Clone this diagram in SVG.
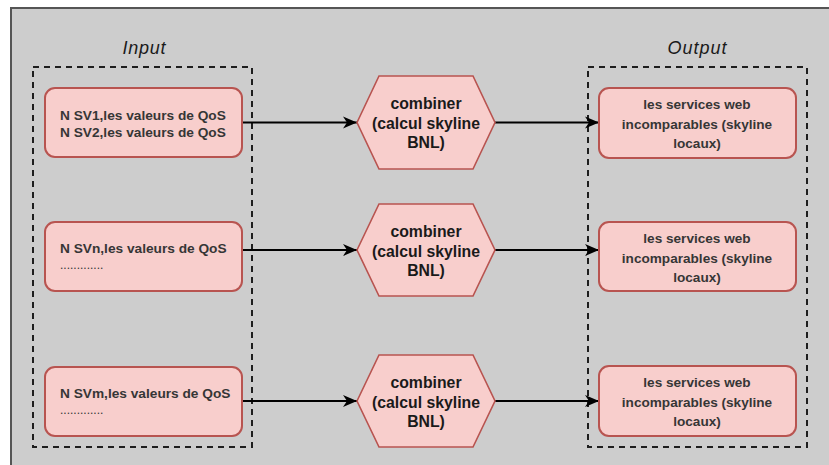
<svg xmlns="http://www.w3.org/2000/svg" width="829" height="465" viewBox="0 0 829 465">
  <defs>
    <style>
      .frame { fill: none; stroke: #1e1e1e; stroke-width: 2; stroke-dasharray: 6 5; }
      .box { fill: #f8cecc; stroke: #b85450; stroke-width: 2; }
      .hex { fill: #f8cecc; stroke: #b85450; stroke-width: 1.6; stroke-linejoin: miter; }
      .edge { fill: none; stroke: #000; stroke-width: 2; marker-end: url(#arrow); }
      .title { font-family: "Liberation Sans", Arial, sans-serif; font-style: italic; font-size: 18px; fill: #1a1a1a; text-anchor: middle; }
      .in { font-family: "Liberation Sans", Arial, sans-serif; font-weight: bold; font-size: 13.7px; fill: #363636; }
      .dots { font-family: "Liberation Sans", Arial, sans-serif; font-size: 12px; fill: #363636; }
      .hx { font-family: "Liberation Sans", Arial, sans-serif; font-weight: bold; font-size: 15.8px; fill: #1a1a1a; text-anchor: middle; }
      .out { font-family: "Liberation Sans", Arial, sans-serif; font-weight: bold; font-size: 13.6px; fill: #363636; text-anchor: middle; }
    </style>
    <marker id="arrow" markerUnits="userSpaceOnUse" markerWidth="16" markerHeight="14" refX="14" refY="7" orient="auto">
      <path d="M0,1 L14,7 L0,13 L4,7 Z" fill="#000"/>
    </marker>
  </defs>

  <!-- canvas -->
  <rect x="0" y="0" width="829" height="465" fill="#ffffff"/>
  <rect x="11" y="8" width="830" height="470" fill="#cdcdcd" stroke="#555" stroke-width="2"/>

  <!-- group frames -->
  <g id="input-group">
    <rect class="frame" x="33" y="67" width="219" height="380"/>
    <text class="title" x="144" y="54" textLength="43" lengthAdjust="spacing">Input</text>
  </g>
  <g id="output-group">
    <rect class="frame" x="588" y="67" width="219" height="380"/>
    <text class="title" x="697" y="54" textLength="59" lengthAdjust="spacing">Output</text>
  </g>

  <!-- connectors -->
  <g id="connectors">
    <path class="edge" d="M242,122.5 L357,122.5"/>
    <path class="edge" d="M242,250 L357,250"/>
    <path class="edge" d="M242,401 L357,401"/>
    <path class="edge" d="M495,122.5 L599,122.5"/>
    <path class="edge" d="M495,250 L599,250"/>
    <path class="edge" d="M495,401 L599,401"/>
  </g>

  <!-- input nodes -->
  <g id="in1">
    <rect class="box" x="45" y="88" width="197" height="69" rx="10"/>
    <text class="in" x="60" y="120">N SV1,les valeurs de QoS</text>
    <text class="in" x="60" y="137">N SV2,les valeurs de QoS</text>
  </g>
  <g id="in2">
    <rect class="box" x="45" y="222" width="197" height="69" rx="10"/>
    <text class="in" x="60" y="253">N SVn,les valeurs de QoS</text>
    <text class="dots" x="60" y="269">.............</text>
  </g>
  <g id="in3">
    <rect class="box" x="45" y="367" width="197" height="69" rx="10"/>
    <text class="in" x="60" y="398">N SVm,les valeurs de QoS</text>
    <text class="dots" x="60" y="414">.............</text>
  </g>

  <!-- combiner nodes -->
  <g id="comb1">
    <polygon class="hex" points="357,122.5 379,76 473,76 495,122.5 473,169 379,169"/>
    <text class="hx" x="426" y="109">combiner</text>
    <text class="hx" x="426" y="129">(calcul skyline</text>
    <text class="hx" x="426" y="148">BNL)</text>
  </g>
  <g id="comb2">
    <polygon class="hex" points="357,250 379,204 473,204 495,250 473,296 379,296"/>
    <text class="hx" x="426" y="236.5">combiner</text>
    <text class="hx" x="426" y="256.5">(calcul skyline</text>
    <text class="hx" x="426" y="275.5">BNL)</text>
  </g>
  <g id="comb3">
    <polygon class="hex" points="357,401 379,355 473,355 495,401 473,447 379,447"/>
    <text class="hx" x="426" y="387.5">combiner</text>
    <text class="hx" x="426" y="407.5">(calcul skyline</text>
    <text class="hx" x="426" y="426.5">BNL)</text>
  </g>

  <!-- output nodes -->
  <g id="out1">
    <rect class="box" x="599" y="88" width="197" height="70" rx="10"/>
    <text class="out" x="697" y="109">les services web</text>
    <text class="out" x="697" y="129">incomparables (skyline</text>
    <text class="out" x="697" y="148">locaux)</text>
  </g>
  <g id="out2">
    <rect class="box" x="599" y="222" width="197" height="69" rx="10"/>
    <text class="out" x="697" y="243">les services web</text>
    <text class="out" x="697" y="263">incomparables (skyline</text>
    <text class="out" x="697" y="282">locaux)</text>
  </g>
  <g id="out3">
    <rect class="box" x="599" y="366" width="197" height="70" rx="10"/>
    <text class="out" x="697" y="387">les services web</text>
    <text class="out" x="697" y="407">incomparables (skyline</text>
    <text class="out" x="697" y="426">locaux)</text>
  </g>
</svg>
